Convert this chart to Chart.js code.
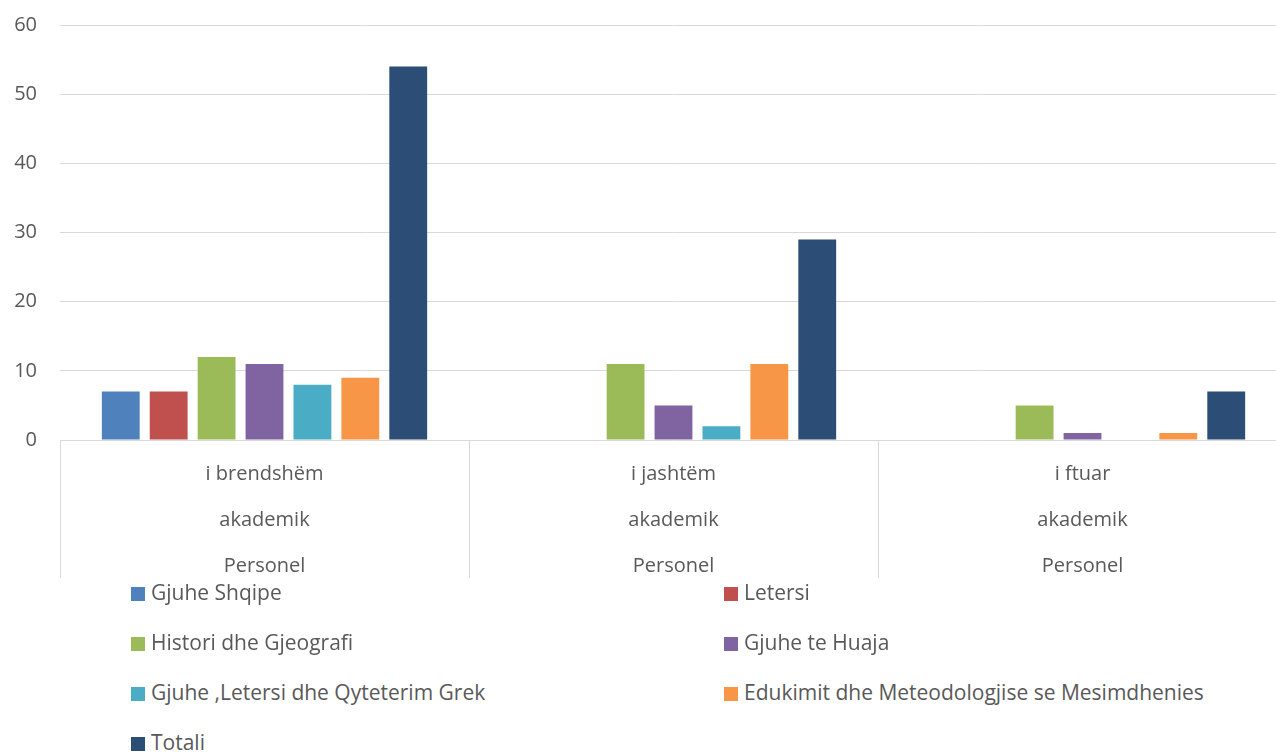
<!DOCTYPE html>
<html>
<head>
<meta charset="utf-8">
<script src="https://cdn.jsdelivr.net/npm/chart.js@4/dist/chart.umd.min.js"></script>
<style>
	html, body { margin: 0; padding: 0; background: #fff; overflow: hidden; }
	#wrap { position: relative; width: 1276px; height: 753px; overflow: hidden; font-family: 'Open Sans', sans-serif; }
	#box { position: absolute; left: 0; top: 0; width: 1287px; height: 578px; }
	#legend { position: absolute; left: 0; top: 567px; width: 1276px; }
	.item { position: absolute; height: 50px; line-height: 50px; font-size: 21px; color: #595959; white-space: nowrap; }
	.item span { display: inline-block; width: 14px; height: 14px; margin-right: 6px; vertical-align: -1px; }
</style>
</head>
<body>
<div id="wrap">
	<div id="box"><canvas id="myChart"></canvas></div>
	<div id="legend"></div>
</div>
<script>
const categories = [
	['i brendshëm', 'akademik', 'Personel'],
	['i jashtëm', 'akademik', 'Personel'],
	['i ftuar', 'akademik', 'Personel']
]
const seriesNames = [
	'Gjuhe Shqipe',
	'Letersi',
	'Histori dhe Gjeografi',
	'Gjuhe te Huaja',
	'Gjuhe ,Letersi dhe Qyteterim Grek',
	'Edukimit dhe Meteodologjise se Mesimdhenies',
	'Totali'
]
const gjuheShqipe = [7, 0, 0]
const letersi     = [7, 0, 0]
const historia    = [12, 11, 5]
const gjuheHuaja  = [11, 5, 1]
const grek        = [8, 2, 0]
const edukimit    = [9, 11, 1]
const totali      = [54, 29, 7]
const yTicks = [0, 10, 20, 30, 40, 50, 60]

const colors = ['#4f81bd', '#c0504d', '#9bbb59', '#8064a2', '#4bacc6', '#f79646', '#2c4d75']
const textColor = '#595959'
const gridColor = '#d9d9d9'
const allValues = [gjuheShqipe, letersi, historia, gjuheHuaja, grek, edukimit, totali]

// vijat ndarese poshte boshtit x
const separators = {
	id: 'separators',
	afterDraw(chart) {
		const x = chart.scales.x
		const c = chart.ctx
		const n = categories.length
		c.save()
		c.strokeStyle = gridColor
		c.lineWidth = 1
		for (let i = 0; i < n; i++) {
			const px = Math.round(x.left + i * x.width / n) + 0.5
			c.beginPath()
			c.moveTo(px, x.top)
			c.lineTo(px, x.bottom)
			c.stroke()
		}
		c.restore()
	}
}

const ctx = document.getElementById('myChart').getContext('2d')
const chart = new Chart(ctx, {
	type: 'bar',
	data: {
		labels: categories,
		datasets: seriesNames.map((name, i) => ({
			label: name,
			data: allValues[i],
			backgroundColor: colors[i],
			categoryPercentage: 0.82,
			barPercentage: 0.79
		}))
	},
	options: {
		responsive: true,
		maintainAspectRatio: false,
		animation: false,
		layout: { padding: 0 },
		scales: {
			x: {
				grid: { display: false },
				border: { display: false },
				ticks: {
					color: textColor,
					font: { family: 'Open Sans', size: 20, lineHeight: 2.3 },
					padding: 3,
					maxRotation: 0
				},
				afterFit(scale) { scale.height = 138 }
			},
			y: {
				min: 0,
				max: 60,
				afterBuildTicks(scale) { scale.ticks = yTicks.map(v => ({ value: v })) },
				grid: { color: gridColor, drawTicks: false },
				border: { display: false },
				ticks: {
					color: textColor,
					font: { family: 'Open Sans', size: 20 },
					padding: 23
				},
				afterFit(scale) {
					scale.width = 60
					scale.paddingTop = 25
					scale.paddingBottom = 12
				}
			}
		},
		plugins: {
			legend: { display: false },
			tooltip: { enabled: false }
		}
	},
	plugins: [separators]
})

// legjenda ne dy kolona
const legend = document.getElementById('legend')
seriesNames.forEach((name, i) => {
	const el = document.createElement('div')
	el.className = 'item'
	el.style.left = (i % 2 == 0 ? 131 : 724) + 'px'
	el.style.top = (Math.floor(i / 2) * 50) + 'px'
	el.innerHTML = '<span style="background:' + colors[i] + '"></span>' + name
	legend.appendChild(el)
})
</script>
</body>
</html>
